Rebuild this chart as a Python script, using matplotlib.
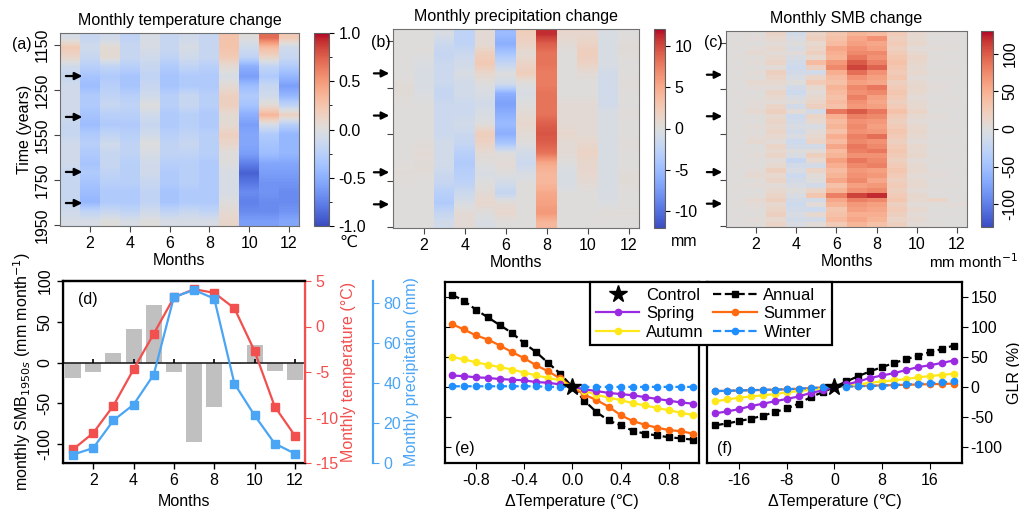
import numpy as np
import matplotlib
matplotlib.use('Agg')
import matplotlib.pyplot as plt
from matplotlib.cm import ScalarMappable
from matplotlib.colors import Normalize
from matplotlib.ticker import MultipleLocator

plt.rcParams['font.family'] = ['Liberation Sans', 'DejaVu Sans']
plt.rcParams['font.size'] = 11.5
plt.rcParams['axes.unicode_minus'] = False

# ---------------- data ----------------
months = [1, 2, 3, 4, 5, 6, 7, 8, 9, 10, 11, 12]
year_ticks = [0.062, 0.295, 0.528, 0.762, 0.995]
year_labels = ['1150', '1250', '1550', '1750', '1950']
arrow_rows = [0.223, 0.435, 0.720, 0.881]

# (a) monthly temperature change, one list per month, 20 rows top -> bottom
temp_chg = [
    [-0.05, 0.2, 0.1, -0.1, -0.15, -0.1, -0.1, -0.1, -0.1, -0.15, -0.15, -0.1, -0.1, -0.1, -0.15, -0.15, -0.15, -0.15, -0.1, -0.05],
    [-0.15, -0.1, -0.15, -0.25, -0.35, -0.4, -0.3, -0.3, -0.35, -0.4, -0.3, -0.25, -0.3, -0.35, -0.3, -0.35, -0.4, -0.45, -0.2, -0.05],
    [-0.1, 0.05, 0.05, -0.2, -0.3, -0.25, -0.2, -0.15, -0.25, -0.3, -0.2, -0.1, -0.15, -0.15, -0.2, -0.25, -0.3, -0.3, -0.15, 0.0],
    [-0.2, -0.15, -0.15, -0.25, -0.35, -0.35, -0.25, -0.2, -0.25, -0.3, -0.25, -0.2, -0.2, -0.25, -0.25, -0.25, -0.3, -0.3, -0.2, -0.05],
    [-0.05, -0.05, -0.1, -0.15, -0.2, -0.15, -0.1, 0.0, -0.1, -0.15, -0.1, 0.0, -0.05, -0.1, -0.1, -0.15, -0.2, -0.2, -0.1, 0.0],
    [-0.15, -0.15, -0.2, -0.3, -0.35, -0.35, -0.25, -0.25, -0.3, -0.3, -0.25, -0.2, -0.2, -0.25, -0.3, -0.3, -0.35, -0.35, -0.2, -0.05],
    [-0.1, -0.05, -0.1, -0.2, -0.3, -0.3, -0.15, -0.15, -0.25, -0.25, -0.2, -0.15, -0.2, -0.25, -0.25, -0.25, -0.3, -0.3, -0.15, -0.05],
    [-0.15, -0.15, -0.15, -0.25, -0.3, -0.3, -0.25, -0.25, -0.3, -0.3, -0.25, -0.25, -0.25, -0.3, -0.3, -0.3, -0.3, -0.3, -0.2, -0.05],
    [0.25, 0.25, 0.2, 0.05, -0.05, 0.05, 0.15, 0.15, 0.05, 0.05, 0.15, 0.1, 0.0, 0.0, -0.05, -0.05, -0.05, 0.0, 0.05, 0.1],
    [0.0, -0.1, -0.2, -0.5, -0.6, -0.4, -0.3, -0.35, -0.5, -0.6, -0.55, -0.55, -0.6, -0.75, -0.9, -0.8, -0.7, -0.75, -0.7, -0.6],
    [0.7, 0.3, 0.1, -0.2, -0.3, -0.15, -0.1, 0.05, 0.35, -0.05, -0.3, -0.35, -0.4, -0.55, -0.6, -0.65, -0.65, -0.7, -0.7, -0.6],
    [0.2, -0.1, -0.15, -0.3, -0.45, -0.6, -0.45, -0.2, 0.15, -0.25, -0.45, -0.45, -0.45, -0.55, -0.6, -0.65, -0.7, -0.7, -0.65, -0.55],
]

# (b) monthly precipitation change (mm), 20 rows
prec_chg = [
    [0, 0, 0, 0, 0, 0.3, 0.3, 0.2, 0, 0, 0, 0, 0, 0.2, 0.3, 0.2, 0, 0, 0, 0],
    [0, 0, 0, -0.3, -0.5, -0.5, -0.3, 0, 0, 0, 0, 0.3, 0.5, 0.3, 0.3, 0, 0, 0, 0, 0],
    [-0.5, -1.5, -2, -1.5, -1.5, -1.5, -2, -1.5, -1.5, -1.5, -1.5, -1, -1, -1, -1.5, -2, -3, -3.5, -2, -1],
    [-2.5, -2.5, -1.5, -1, -0.5, -1, -1, -1.5, -1.5, -1, -1.5, -2, -3, -3.5, -3, -2.5, -1.5, -0.5, 0.5, 0.5],
    [0.5, 0.5, 2, 2.5, 1, 0, -0.5, -1, -0.5, 0, 2, 1.5, 0.5, 0, -0.5, 0, 0.5, 1, 0, -0.5],
    [-5, -6, -4, -2, 0, -1, -6, -7, -6, -5, -6, -4, 0, 0.5, 0, -1, -2, 0.5, 1, 0],
    [2, 1.5, 0.5, 1.5, 2, 0, -0.5, 0, 0.5, 1, 0.5, 0, -1, -1.5, -0.5, 0, 0, 0, 0, 0],
    [11, 9, 8, 8, 7.5, 7.5, 8, 8, 8, 9, 9.5, 9, 8, 5, 4, 4, 5, 5.5, 6, 4],
    [1, 0.5, 0, 0, 0, 0, 0, 0.5, 0.5, 0.5, 1, 0.5, 0.5, 0, -0.5, -0.5, 0, 0, 0, 0],
    [1, 1.5, 2, 1.5, 0.5, 0, 0, 0.5, 0.5, 0.5, 0.5, 1, 1.5, 1, 1, 0.5, 0, 0, 0, 0],
    [-0.5, -0.5, -0.5, -0.5, -1, -1, -1, -1, -0.5, -0.5, -0.5, -0.5, -0.5, -0.5, -0.5, -0.5, -0.5, -0.3, 0.3, 0],
    [0, 0.3, 0.3, 0, 0, 0.3, 0, 0, 0.3, 0, 0, 0.3, 0, 0, 0.3, 0.3, 0, 0, 0.3, 0],
]

# (c) monthly SMB change (mm month-1), 40 rows
smb_chg = [
    [2, 0, 3, 0, 2, 3, 0, 2, 0, 3, 2, 0, 3, 2, 0, 2, 3, 0, 2, 0, 3, 2, 0, 2, 3, 0, 2, 3, 0, 2, 0, 3, 2, 0, 2, 3, 0, 2, 0, 2],
    [3, 5, 0, 5, 8, 3, 5, 0, 5, 3, 8, 5, 0, 3, 5, 5, 8, 3, 0, 5, 3, 5, 8, 0, 3, 5, 3, 0, 5, 8, 3, 5, 0, 3, 8, 5, 3, 0, 5, 3],
    [15, 10, 5, 10, 5, 10, 15, 5, 20, 15, 10, 5, 15, 10, 5, 15, 20, 10, 15, 10, 15, 10, 5, 15, 10, 15, 5, 10, 20, 10, 15, 5, 10, 15, 20, 10, 15, 20, 10, 15],
    [-10, -5, 0, -5, 5, -5, -10, -15, -10, -5, 0, -10, -15, -5, 0, -10, 5, -15, -10, -5, -10, -5, -15, -10, 0, -5, -20, -10, -5, -15, -10, -5, 0, -5, -10, -15, -10, -5, -10, -5],
    [15, 20, 10, 15, 20, 10, 40, 20, -10, 15, 25, 10, 5, 10, 15, 20, -10, 15, 10, -5, 5, 10, 15, -10, 5, 20, 10, -10, 15, 5, 0, -10, 15, 30, -10, 5, -15, 10, -10, 5],
    [30, 35, 40, 55, 50, 45, 65, 75, 50, 40, 35, 45, 40, 35, 40, 35, 85, 50, 40, 45, 35, 50, 40, 55, 40, 45, 60, 50, 40, 45, 55, 35, 45, 80, 55, 45, 30, 35, 40, 25],
    [45, 55, 60, 70, 75, 85, 100, 110, 90, 70, 60, 75, 70, 80, 70, 65, 100, 80, 70, 75, 70, 80, 75, 85, 80, 70, 85, 75, 65, 70, 75, 60, 70, 110, 80, 65, 60, 50, 55, 45],
    [40, 70, 55, 60, 75, 70, 80, 95, 70, 60, 55, 85, 75, 60, 55, 60, 85, 75, 65, 60, 65, 90, 70, 75, 85, 70, 75, 80, 60, 65, 55, 65, 75, 120, 75, 60, 55, 50, 45, 35],
    [25, 20, 25, 20, 25, 30, 35, 30, 25, 30, 20, 25, 30, 25, 20, 25, 35, 25, 20, 25, 30, 25, 20, 25, 30, 25, 20, 25, 30, 25, 20, 25, 20, 25, 30, 20, 25, 20, 15, 20],
    [10, 8, 12, 5, 10, 15, 12, 8, 10, 5, 8, 12, 10, 5, 8, 10, 15, 8, 5, 10, 12, 8, 5, 10, 8, 12, 5, 8, 10, 5, 8, 10, 5, 12, 8, 5, 10, 5, 8, 5],
    [3, 0, 2, 5, 0, 3, 2, 0, 3, 0, 2, 5, 3, 0, 2, 3, 0, 5, 2, 0, 3, 2, 0, 3, 0, 2, 3, 0, 2, 5, 0, 3, 2, 0, 15, 3, 0, 2, 0, 3],
    [0, 2, 0, 3, 0, 2, 0, 0, 3, 0, 2, 0, 0, 3, 0, 2, 0, 0, 2, 0, 3, 0, 0, 2, 0, 3, 0, 0, 2, 0, 0, 3, 0, 2, 0, 5, 0, 2, 0, 0],
]

# (d) climatology
smb_1950s = [-19, -12, 12, 41, 71, -12, -97, -54, -2, 22, -10, -21]
temp_month = [-13.5, -11.7, -8.7, -4.7, -0.8, 3.2, 4.1, 3.7, 2.0, -2.7, -8.8, -12.0]
prec_month = [4.2, 7.5, 21.3, 29.2, 44.2, 83.0, 86.5, 82.2, 39.7, 23.8, 9.7, 4.7]

# (e) GLR vs temperature perturbation
dT_e = [-1.0, -0.9, -0.8, -0.7, -0.6, -0.5, -0.4, -0.3, -0.2, -0.1, 0.0,
        0.1, 0.2, 0.3, 0.4, 0.5, 0.6, 0.7, 0.8, 0.9, 1.0]
glr_e = {
    'Annual': [154, 144, 129, 116, 103, 90, 73, 58, 40, 22, 0, -23, -42, -56, -64, -73, -78, -81, -84, -86, -88],
    'Summer': [105, 96, 86, 79, 69, 58, 48, 36, 26, 14, 0, -13, -22, -33, -47, -57, -63, -68, -72, -74, -78],
    'Autumn': [50, 46, 41, 37, 33, 29, 24, 19, 15, 11, 0, -7, -13, -18, -22, -27, -31, -35, -39, -43, -47],
    'Spring': [19, 18, 16, 15, 13, 12, 11, 8, 7, 4, 0, -4, -7, -10, -12, -14, -17, -20, -23, -26, -28],
    'Winter': [1, 1, 1, 1, 1, 1, 1, 1, 0, 0, 0, 0, 0, 0, 0, 0, 0, 0, 0, 0, 0],
}
# (f)
dT_f = [-20, -18, -16, -14, -12, -10, -8, -6, -4, -2, 0,
        2, 4, 6, 8, 10, 12, 14, 16, 18, 20]
glr_f = {
    'Annual': [-64, -61, -57, -53, -48, -42, -36, -28, -17, -9, 0, 9, 18, 26, 33, 40, 46, 52, 58, 63, 69],
    'Summer': [-7, -6.5, -6, -5.5, -5, -4.5, -4, -3, -2, -1, 0, 1, 1.5, 2, 2.5, 3, 3.5, 4, 4.5, 5, 5.5],
    'Autumn': [-24, -21, -18, -16, -14, -12, -9, -7, -5, -3, 0, 2, 4, 7, 9, 11, 13, 16, 18, 20, 22],
    'Spring': [-44, -41, -37, -32, -28, -24, -20, -16, -10, -6, 0, 4, 9, 15, 19, 23, 28, 33, 36, 40, 44],
    'Winter': [-7, -6.5, -6, -5.5, -5, -4.5, -4, -3, -2, -1, 0, 0.5, 1, 1.5, 2, 3, 4, 5, 6, 7.5, 9],
}

season_style = {
    'Annual': dict(color='black', ls='--', marker='s'),
    'Summer': dict(color='#ff6a10', ls='-', marker='o'),
    'Autumn': dict(color='#ffe81a', ls='-', marker='o'),
    'Spring': dict(color='#9a2be2', ls='-', marker='o'),
    'Winter': dict(color='#1f8fff', ls='--', marker='o'),
}

RED = '#f24f4f'
BLUE = '#4ba5f5'
W, H = 1020, 514


def box(x0, y0, x1, y1):
    return [x0 / W, 1 - y1 / H, (x1 - x0) / W, (y1 - y0) / H]


fig = plt.figure(figsize=(10.2, 5.14), dpi=100)
cmap = plt.get_cmap('coolwarm')


def heatmap(ax, cols, vmin, vmax, smooth):
    norm = Normalize(vmin, vmax)
    for m, col in zip(months, cols):
        arr = np.array(col, dtype=float).reshape(-1, 1)
        ax.imshow(arr, extent=(m - 0.5, m + 0.5, 1, 0), aspect='auto', cmap=cmap, norm=norm,
                  interpolation='bilinear' if smooth else 'nearest')
    ax.set_xlim(0.5, 12.5)
    ax.set_ylim(1, 0)
    ax.set_xticks([2, 4, 6, 8, 10, 12])
    ax.set_yticks(year_ticks)
    for s in ax.spines.values():
        s.set_color('#707070')
    ax.tick_params(length=4, color='#444444')
    ax.set_xlabel('Months', labelpad=1)
    return norm


def colorbar(cax, norm, ticks):
    cb = fig.colorbar(ScalarMappable(norm=norm, cmap=cmap), cax=cax)
    cb.set_ticks(ticks)
    cb.outline.set_edgecolor('#606060')
    return cb


# ---- (a)
ax_a = fig.add_axes(box(60, 33, 299, 226))
na = heatmap(ax_a, temp_chg, -1, 1, True)
ax_a.set_yticklabels(year_labels, rotation=90, va='center')
ax_a.set_ylabel('Time (years)', labelpad=2)
ax_a.set_title('Monthly temperature change', fontsize=11.5, pad=6)
cax_a = fig.add_axes(box(314, 33, 329, 226))
colorbar(cax_a, na, [-1.0, -0.5, 0.0, 0.5, 1.0])
cax_a.yaxis.set_minor_locator(MultipleLocator(0.25))
cax_a.set_yticklabels(['-1.0', '-0.5', '0.0', '0.5', '1.0'])
fig.text(348 / W, 1 - 242 / H, '℃', ha='center', va='center')
fig.text(22 / W, 1 - 45 / H, '(a)', ha='center', va='center')

# ---- (b)
ax_b = fig.add_axes(box(393, 29, 639, 228))
nb = heatmap(ax_b, prec_chg, -12, 12, True)
ax_b.set_yticklabels([])
ax_b.set_title('Monthly precipitation change', fontsize=11.5, pad=6)
cax_b = fig.add_axes(box(654, 29, 665, 228))
colorbar(cax_b, nb, [-10, -5, 0, 5, 10])
fig.text(684 / W, 1 - 241 / H, 'mm', ha='center', va='center')
fig.text(381 / W, 1 - 42 / H, '(b)', ha='center', va='center')

# ---- (c)
ax_c = fig.add_axes(box(726, 31, 967, 227))
nc = heatmap(ax_c, smb_chg, -130, 130, False)
ax_c.set_yticklabels([])
ax_c.set_title('Monthly SMB change', fontsize=11.5, pad=6)
cax_c = fig.add_axes(box(981, 31, 993, 227))
colorbar(cax_c, nc, [-100, -50, 0, 50, 100])
for lab in cax_c.get_yticklabels():
    lab.set_rotation(90)
    lab.set_va('center')
fig.text(1018 / W, 1 - 262 / H, 'mm month$^{-1}$', ha='right', va='center', fontsize=11)
fig.text(713 / W, 1 - 42 / H, '(c)', ha='center', va='center')

# arrows marking selected periods
for ax, x0, x1 in [(ax_a, 0.013, 0.105), (ax_b, -0.089, -0.004), (ax_c, -0.091, -0.004)]:
    for yr in arrow_rows:
        ax.annotate('', xy=(x1, 1 - yr), xytext=(x0, 1 - yr), xycoords='axes fraction',
                    textcoords='axes fraction', annotation_clip=False,
                    arrowprops=dict(arrowstyle='-|>', color='black', lw=1.6, mutation_scale=11))

# ---- (d)
ax_d = fig.add_axes(box(63, 281, 305, 463))
ax_d.bar(months, smb_1950s, width=0.8, color='#c0c0c0', zorder=1)
ax_d.axhline(0, color='#222222', lw=1.2, zorder=2)
ax_d.vlines([2, 4, 6, 8, 10, 12], 0, 4, color='black', lw=1.2, zorder=2)
ax_d.set_xlim(0.5, 12.5)
ax_d.set_ylim(-123, 100)
ax_d.set_xticks([2, 4, 6, 8, 10, 12])
ax_d.set_yticks([-100, -50, 0, 50, 100])
ax_d.set_yticklabels(['-100', '-50', '0', '50', '100'], rotation=90, va='center')
ax_d.set_xlabel('Months')
ax_d.set_ylabel('monthly SMB$_{1950s}$ (mm month$^{-1}$)', labelpad=3)
ax_d.text(0.06, 0.9, '(d)', transform=ax_d.transAxes, ha='left', va='center')
for s in ['left', 'bottom', 'top']:
    ax_d.spines[s].set_linewidth(1.6)
ax_d.tick_params(length=4, width=1)

ax_t = ax_d.twinx()
ax_t.plot(months, temp_month, color=RED, marker='s', ms=6, lw=1.6)
ax_t.set_ylim(-15, 5)
ax_t.set_yticks([-15, -10, -5, 0, 5])
ax_t.set_ylabel('Monthly temperature (°C)', color=RED, labelpad=2)
ax_t.tick_params(axis='y', colors=RED, length=4)
ax_t.spines['right'].set_color(RED)
ax_t.spines['right'].set_linewidth(1.6)
ax_t.spines['top'].set_linewidth(1.6)

ax_p = ax_d.twinx()
ax_p.spines['right'].set_position(('axes', 1.28))
ax_p.plot(months, prec_month, color=BLUE, marker='s', ms=6, lw=1.6)
ax_p.set_ylim(0, 91)
ax_p.set_yticks([0, 20, 40, 60, 80])
ax_p.set_ylabel('Monthly precipitation (mm)', color=BLUE, labelpad=2)
ax_p.tick_params(axis='y', colors=BLUE, length=4)
ax_p.spines['right'].set_color(BLUE)
ax_p.spines['right'].set_linewidth(1.6)
ax_p.spines['top'].set_visible(False)

# ---- (e) and (f)
ax_e = fig.add_axes(box(445, 282, 699, 463))
ax_f = fig.add_axes(box(707, 282, 962, 463), sharey=ax_e)
order = ['Annual', 'Summer', 'Autumn', 'Spring', 'Winter']
handles = {}
for ax, xs, glr in [(ax_e, dT_e, glr_e), (ax_f, dT_f, glr_f)]:
    for name in order:
        st = season_style[name]
        ln, = ax.plot(xs, glr[name], color=st['color'], ls=st['ls'], marker=st['marker'],
                      ms=4.5, lw=1.6, label=name, zorder=3)
        handles[name] = ln
    star, = ax.plot([0], [0], marker='*', color='black', ms=13, ls='none', zorder=5, label='Control')
    handles['Control'] = star
    for s in ax.spines.values():
        s.set_linewidth(1.6)
    ax.set_xlabel('ΔTemperature (℃)')

ax_e.set_ylim(-127, 175)
ax_e.set_xlim(-1.055, 1.05)
ax_e.set_xticks([-0.8, -0.4, 0.0, 0.4, 0.8])
ax_e.set_yticks([-100, -50, 0, 50, 100, 150])
ax_e.tick_params(axis='y', direction='in', labelleft=False, length=4)
ax_e.tick_params(axis='x', length=4)
ax_e.text(0.04, 0.08, '(e)', transform=ax_e.transAxes, ha='left', va='center')

ax_f.set_xlim(-21.4, 21.4)
ax_f.set_xticks([-16, -8, 0, 8, 16])
ax_f.yaxis.tick_right()
ax_f.tick_params(axis='y', labelleft=False, labelright=True, length=4, pad=2)
ax_f.tick_params(axis='x', length=4)
ax_f.set_ylabel('GLR (%)', rotation=90, va='center')
ax_f.yaxis.set_label_position('right')
ax_f.yaxis.set_label_coords(1.175, 0.5)
ax_f.text(0.04, 0.08, '(f)', transform=ax_f.transAxes, ha='left', va='center')

leg_names = ['Control', 'Spring', 'Autumn', 'Annual', 'Summer', 'Winter']
leg = fig.legend([handles[n] for n in leg_names], leg_names, ncol=2,
                 loc='upper left', bbox_to_anchor=(590 / W, 1 - 282 / H), borderaxespad=0,
                 frameon=True, fancybox=False, edgecolor='black', framealpha=1,
                 handlelength=2.6, handletextpad=0.4, columnspacing=0.6,
                 borderpad=0.35, labelspacing=0.2, fontsize=12)
leg.get_frame().set_linewidth(1.6)

fig.savefig('out.png', dpi=100)
